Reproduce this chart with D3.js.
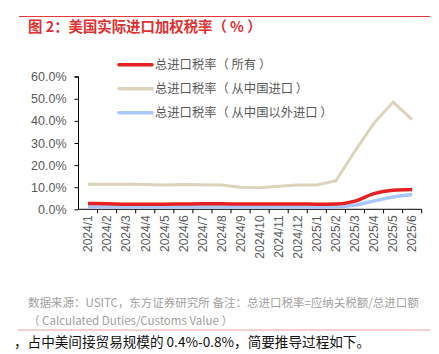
<!DOCTYPE html>
<html><head><meta charset="utf-8">
<script src="https://cdn.jsdelivr.net/npm/d3@7"></script>
<style>html,body{margin:0;padding:0;background:#fff;}svg{display:block;font-family:"Liberation Sans","Noto Sans CJK SC",sans-serif;}</style>
</head><body>
<svg id="c" width="439" height="354"></svg>
<script>
const categories = ["2024/1","2024/2","2024/3","2024/4","2024/5","2024/6","2024/7","2024/8","2024/9","2024/10","2024/11","2024/12","2025/1","2025/2","2025/3","2025/4","2025/5","2025/6"];
const seriesNames = ["总进口税率（ 所有 ）","总进口税率（ 从中国进口 ）","总进口税率（ 从中国以外进口 ）"];
const allRate =    [2.6,2.5,2.3,2.3,2.3,2.4,2.5,2.5,2.4,2.4,2.4,2.4,2.3,2.4,3.7,7.1,8.6,9.0];
const chinaRate =  [11.3,11.3,11.3,11.2,11.0,11.2,11.1,11.0,10.0,9.8,10.4,11.0,11.0,12.9,26.4,39.0,48.5,40.6];
const nonChinaRate=[1.1,1.1,1.1,1.1,1.1,1.1,1.1,1.1,1.1,1.1,1.1,1.1,1.0,1.1,1.9,3.8,5.6,6.7];
const yTicks = [0,10,20,30,40,50,60];
const colors = ["#e42020","#ddd3bb","#a8c8fb"];

const svg = d3.select("#c");
const x0 = 78.5, x1 = 421.7, yTop = 76.7, yBot = 209.3;
const x = d3.scaleBand().domain(categories).range([x0, x1]);
const y = d3.scaleLinear().domain([0, 60]).range([yBot, yTop]);

// top red rule & title
svg.append("line").attr("x1",19).attr("x2",430).attr("y1",16.5).attr("y2",16.5).attr("stroke","#e03a3a").attr("stroke-width",1);
svg.append("text").attr("x",28).attr("y",31.8).attr("fill","#e03030").attr("font-size",14.4).attr("font-weight","bold")
  .attr("font-family","'Noto Sans CJK SC',sans-serif").text("图 2：美国实际进口加权税率（ % ）");

// y axis
const ya = svg.append("g").attr("transform",`translate(${x0},0)`)
  .call(d3.axisLeft(y).tickValues(yTicks).tickSize(4).tickFormat(d=>d.toFixed(1)+"%"));
ya.select(".domain").attr("stroke","#000").attr("d",`M-4,${yTop}H0V${yBot}`);
ya.selectAll(".tick line").attr("stroke","#000");
ya.selectAll("text").attr("fill","#595959").attr("font-size",12.5).attr("x",-12).attr("font-family","'Liberation Sans',sans-serif");

// x axis
const xa = svg.append("g").attr("transform",`translate(0,${yBot})`);
xa.append("line").attr("x1",x0).attr("x2",x1).attr("stroke","#000");
xa.selectAll("line.t").data(categories).enter().append("line").attr("class","t")
  .attr("x1",d=>x(d)+x.bandwidth()).attr("x2",d=>x(d)+x.bandwidth()).attr("y1",0).attr("y2",4).attr("stroke","#000");
xa.selectAll("text").data(categories).enter().append("text")
  .attr("transform",d=>`translate(${x(d)+x.bandwidth()/2+4.3},6) rotate(-90)`)
  .attr("text-anchor","end").attr("fill","#595959").attr("font-size",12).attr("font-family","'Liberation Sans',sans-serif").text(d=>d);

// lines
const cx = d => x(d)+x.bandwidth()/2;
const mk = (vals, curve) => d3.line().x((v,i)=>cx(categories[i])).y(v=>y(v)).curve(curve)(vals);
svg.append("path").attr("d",mk(chinaRate,d3.curveLinear)).attr("fill","none").attr("stroke",colors[1]).attr("stroke-width",3);
svg.append("path").attr("d",mk(nonChinaRate,d3.curveMonotoneX)).attr("fill","none").attr("stroke",colors[2]).attr("stroke-width",3.5);
svg.append("path").attr("d",mk(allRate,d3.curveMonotoneX)).attr("fill","none").attr("stroke",colors[0]).attr("stroke-width",3.5);

// legend
const lg = svg.append("g");
seriesNames.forEach((n,i)=>{
  const yy = 64.7 + i*24;
  lg.append("line").attr("x1",119).attr("x2",152).attr("y1",yy).attr("y2",yy).attr("stroke",colors[i]).attr("stroke-width",3.5).attr("stroke-linecap","round");
  lg.append("text").attr("x",155).attr("y",yy+4.5).attr("fill","#595959").attr("font-size",12.3)
    .attr("font-family","'Noto Sans CJK SC',sans-serif").text(n);
});

// footer
svg.append("text").attr("x",28).attr("y",307).attr("fill","#a0a0a0").attr("font-size",11.5)
  .attr("font-family","'Noto Sans CJK SC',sans-serif").text("数据来源：USITC，东方证券研究所  备注：总进口税率=应纳关税额/总进口额");
svg.append("text").attr("x",28).attr("y",325).attr("fill","#a0a0a0").attr("font-size",11.5)
  .attr("font-family","'Noto Sans CJK SC',sans-serif").text("（ Calculated Duties/Customs Value ）");
svg.append("line").attr("x1",18).attr("x2",430).attr("y1",330).attr("y2",330).attr("stroke","#eca0a0").attr("stroke-width",1);
svg.append("text").attr("x",14).attr("y",347).attr("fill","#111").attr("font-size",13.6)
  .attr("font-family","'Noto Sans CJK SC',sans-serif").text("，占中美间接贸易规模的 0.4%-0.8%，简要推导过程如下。");
</script>
</body></html>
